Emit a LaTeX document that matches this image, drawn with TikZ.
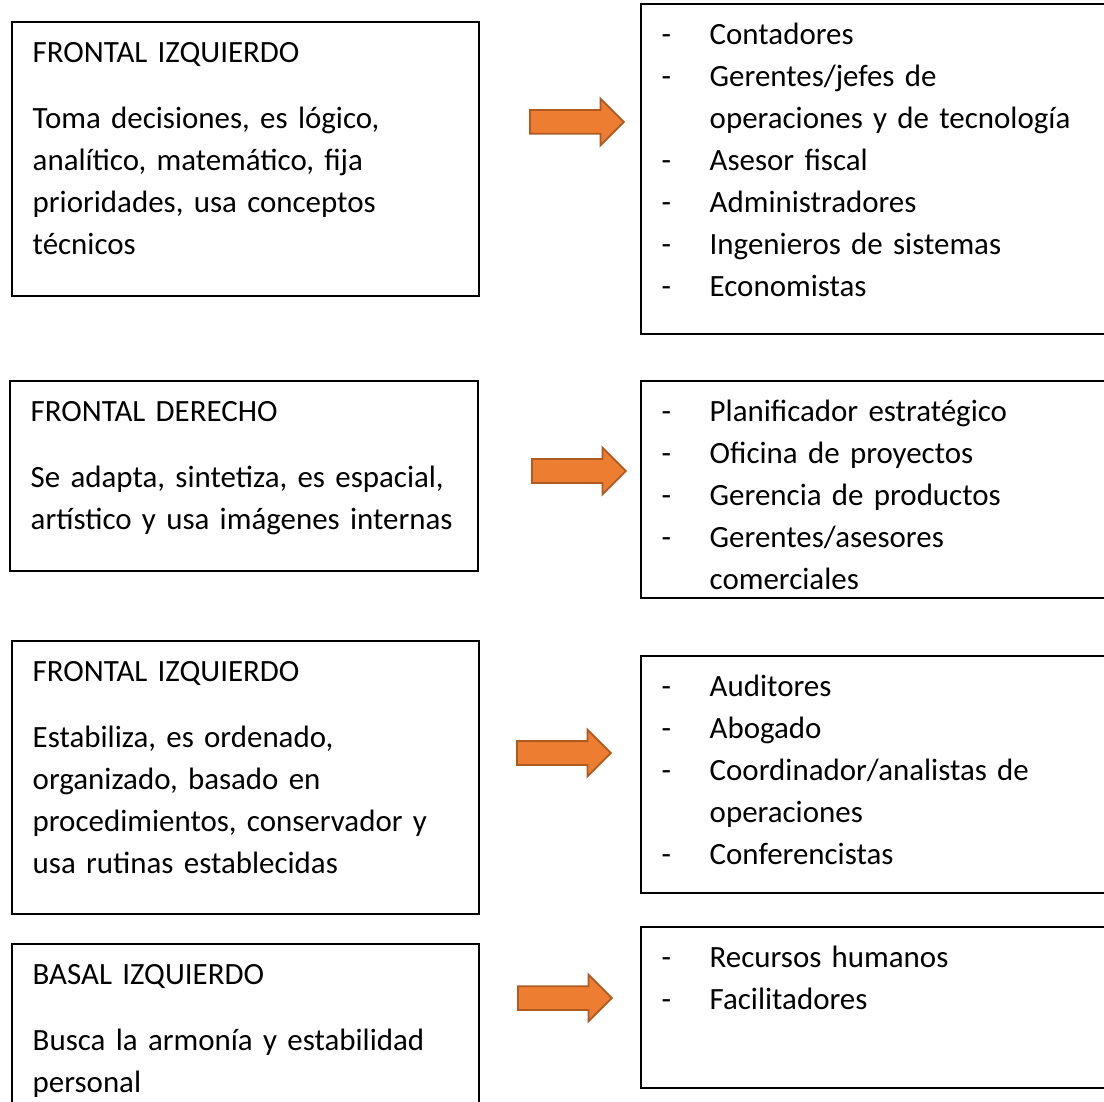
\documentclass[tikz,border=0pt]{standalone}
\usepackage{fontspec}
\setmainfont{Carlito}
\usetikzlibrary{shapes.arrows}
\definecolor{naranja}{HTML}{ED7D31}
\definecolor{naranjaborde}{HTML}{AE5A21}

\begin{document}
\begin{tikzpicture}[
    caja/.style={draw, line width=0.55pt, anchor=north west, inner sep=0pt},
    texto/.style={anchor=north west, inner sep=0pt, align=left, text width=4.6cm,
        font=\fontsize{8.8}{11.95}\selectfont, xshift=0.21cm, yshift=-0.116cm},
    flecha/.style={single arrow, draw=naranjaborde, fill=naranja, line width=0.5pt, anchor=tail,
        minimum height=0.94cm, single arrow head extend=0.115cm, inner xsep=0pt, inner ysep=0.11cm}]
    \useasboundingbox (0,0) rectangle (11.04,-11.01);
    \clip (0,0) rectangle (11.04,-11.01);

    \node[caja, minimum width=4.67cm, minimum height=2.74cm] (L1) at (0.11,-0.21) {};
    \node[texto] (T1) at (L1.north west) {\strut FRONTAL IZQUIERDO\\[6.83pt]
        Toma decisiones, es lógico,\\ analítico, matemático, fija\\ prioridades, usa conceptos\\ técnicos};
    \node[caja, minimum width=4.80cm, minimum height=3.30cm] (R1) at (6.40,-0.03) {};
    \node[texto] (T2) at (R1.north west) {\strut\makebox[0.48cm][l]{-}Contadores\\
        \makebox[0.48cm][l]{-}Gerentes/jefes de\\ \hspace*{0.48cm}operaciones y de tecnología\\
        \makebox[0.48cm][l]{-}Asesor fiscal\\ \makebox[0.48cm][l]{-}Administradores\\
        \makebox[0.48cm][l]{-}Ingenieros de sistemas\\ \makebox[0.48cm][l]{-}Economistas};
    \node[flecha] (F1) at (5.29,-1.22) {};

    \node[caja, minimum width=4.68cm, minimum height=1.90cm] (L2) at (0.09,-3.80) {};
    \node[texto] (T3) at (L2.north west) {\strut FRONTAL DERECHO\\[6.83pt]
        Se adapta, sintetiza, es espacial,\\ artístico y usa imágenes internas};
    \node[caja, minimum width=4.80cm, minimum height=2.17cm] (R2) at (6.40,-3.80) {};
    \node[texto] (T4) at (R2.north west) {\strut\makebox[0.48cm][l]{-}Planificador estratégico\\
        \makebox[0.48cm][l]{-}Oficina de proyectos\\ \makebox[0.48cm][l]{-}Gerencia de productos\\
        \makebox[0.48cm][l]{-}Gerentes/asesores\\ \hspace*{0.48cm}comerciales};
    \node[flecha] (F2) at (5.31,-4.71) {};

    \node[caja, minimum width=4.67cm, minimum height=2.73cm] (L3) at (0.11,-6.40) {};
    \node[texto] (T5) at (L3.north west) {\strut FRONTAL IZQUIERDO\\[6.83pt]
        Estabiliza, es ordenado,\\ organizado, basado en\\ procedimientos, conservador y\\ usa rutinas establecidas};
    \node[caja, minimum width=4.80cm, minimum height=2.37cm] (R3) at (6.40,-6.55) {};
    \node[texto] (T6) at (R3.north west) {\strut\makebox[0.48cm][l]{-}Auditores\\
        \makebox[0.48cm][l]{-}Abogado\\ \makebox[0.48cm][l]{-}Coordinador/analistas de\\
        \hspace*{0.48cm}operaciones\\ \makebox[0.48cm][l]{-}Conferencistas};
    \node[flecha] (F3) at (5.16,-7.53) {};

    \node[caja, minimum width=4.67cm, minimum height=2.00cm] (L4) at (0.11,-9.43) {};
    \node[texto] (T7) at (L4.north west) {\strut BASAL IZQUIERDO\\[6.83pt]
        Busca la armonía y estabilidad\\ personal};
    \node[caja, minimum width=4.80cm, minimum height=1.61cm] (R4) at (6.40,-9.26) {};
    \node[texto] (T8) at (R4.north west) {\strut\makebox[0.48cm][l]{-}Recursos humanos\\
        \makebox[0.48cm][l]{-}Facilitadores};
    \node[flecha] (F4) at (5.17,-9.98) {};
\end{tikzpicture}
\end{document}
